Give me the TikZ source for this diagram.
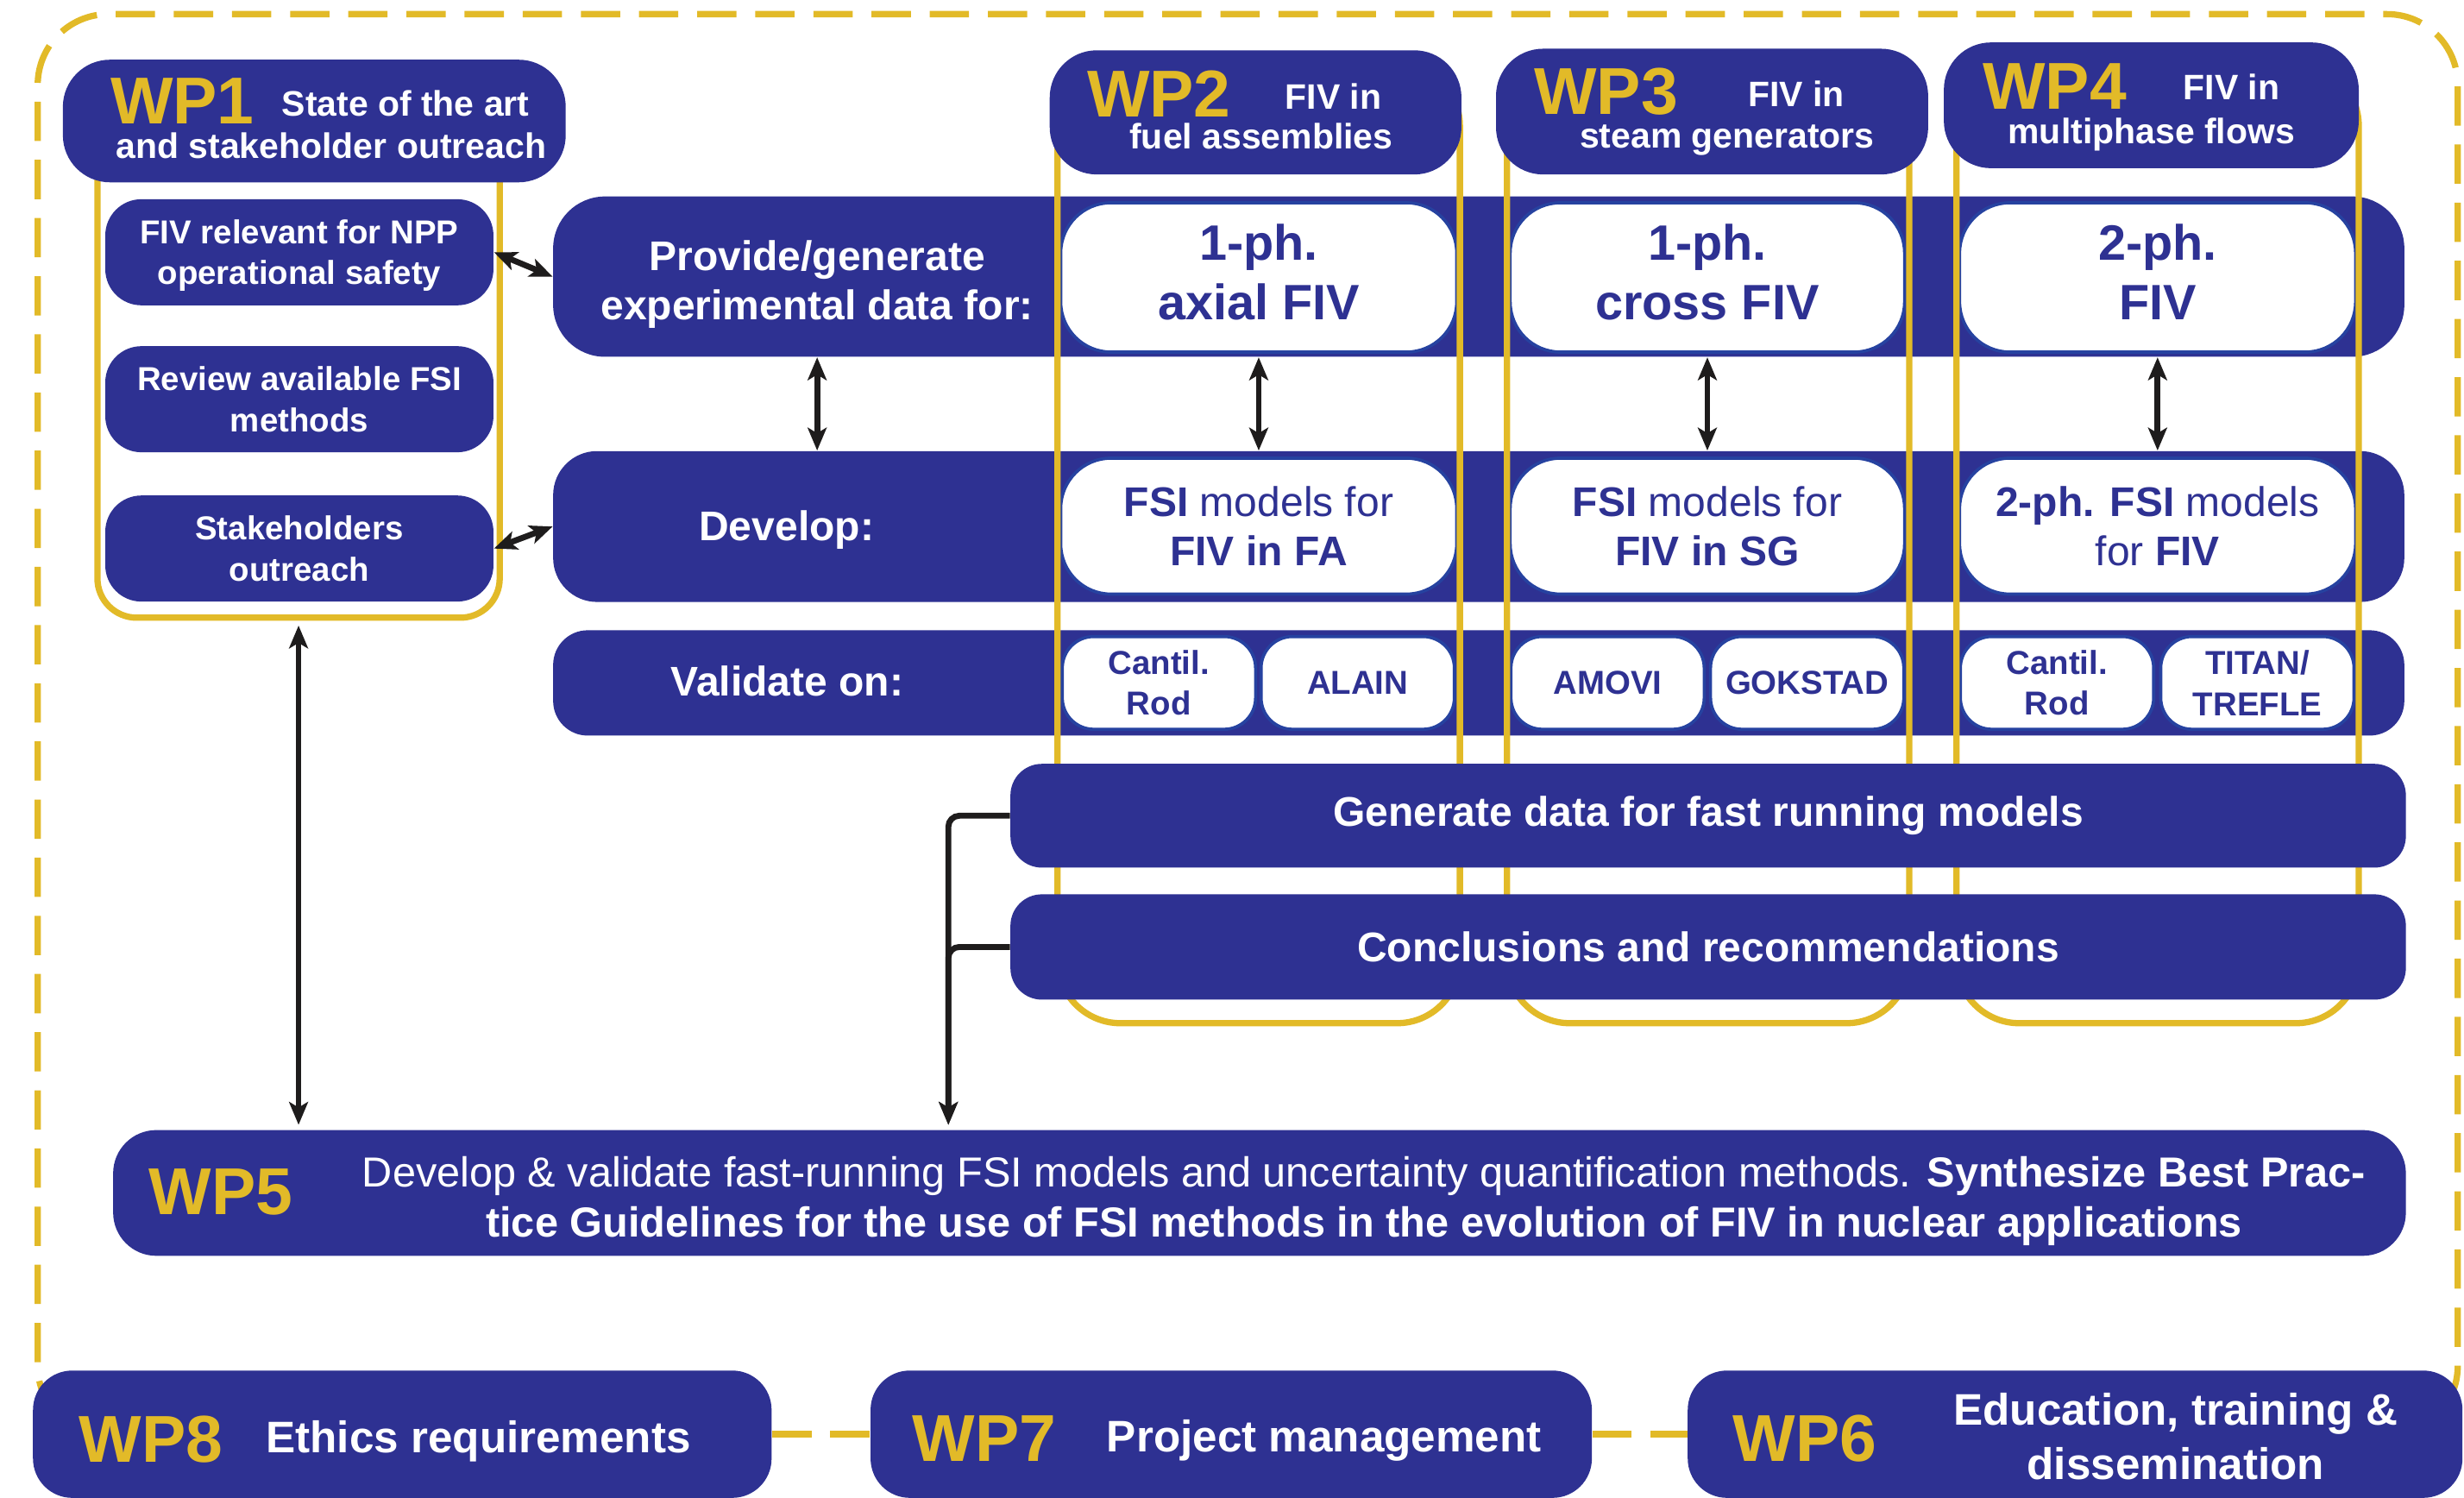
\documentclass[tikz,border=0pt]{standalone}
\usepackage{fontspec}
\setmainfont{Liberation Sans}
\usetikzlibrary{arrows.meta}

\definecolor{fpnavy}{RGB}{46,49,146}
\definecolor{fpyellow}{RGB}{226,186,40}
\definecolor{fprim}{RGB}{38,66,160}
\definecolor{fparrow}{RGB}{30,28,28}

\begin{document}
\begin{tikzpicture}[x=1mm,y=1mm,yscale=-1,xscale=1,
  navy/.style={rectangle,fill=fpnavy,inner sep=0pt,text=white,align=center,rounded corners=#1},
  navy/.default=5mm,
  pale/.style={rectangle,fill=white,draw=fprim,line width=0.4mm,inner sep=0pt,text=fpnavy,align=center,rounded corners=#1},
  pale/.default=4mm,
  wpcol/.style={rectangle,draw=fpyellow,line width=0.8mm,inner sep=0pt,rounded corners=#1},
  wpcol/.default=8mm,
  wpdash/.style={draw=fpyellow,line width=0.8mm,dash pattern=on 5mm off 2.4mm},
  wplbl/.style={anchor=base west,inner sep=0pt,text depth=0pt,text=fpyellow,font=\fontsize{24}{24}\selectfont\bfseries},
  wptxt/.style={anchor=base west,inner sep=0pt,text=white,font=\fontsize{12.8}{14}\selectfont\bfseries},
  bandtxt/.style={inner sep=0pt,text=white,align=center,font=\fontsize{15}{17.9}\selectfont\bfseries},
  bottxt/.style={anchor=base west,inner sep=0pt,text=white,font=\fontsize{16}{19.6}\selectfont\bfseries},
  link/.style={draw=fparrow,line width=0.75mm,>={Stealth[length=2.9mm,width=2.4mm,inset=0.7mm]},<->},
  feed/.style={draw=fparrow,line width=0.75mm,>={Stealth[length=2.9mm,width=2.4mm,inset=0.7mm]},->,rounded corners=1.4mm}
]
\useasboundingbox (0,0) rectangle (313.6,190.6);

%Dashed frame
\draw[wpdash,rounded corners=9mm] (14,182.8) -- (4.8,182.8) -- (4.8,1.8) -- (312.8,1.8) -- (312.8,182.8) -- (303,182.8);

%Bands
\node[navy=6.6mm,minimum width=235.6mm,minimum height=20.4mm] (prov) at (188.2,35.2) {};
\node[navy=5.6mm,minimum width=235.6mm,minimum height=19.2mm] (dev) at (188.2,67) {};
\node[navy=4.4mm,minimum width=235.6mm,minimum height=13.4mm] (vali) at (188.2,86.9) {};

% Text Node
\node[bandtxt] (provtxt) at (104,36.2) {Provide/generate\\experimental data for:};
\node[bandtxt,anchor=base] (devtxt) at (100.1,68.8) {Develop:};
\node[bandtxt,anchor=base] (valitxt) at (100.2,88.6) {Validate on:};

%White boxes
\node[pale=6.4mm,minimum width=50.4mm,minimum height=19mm,text depth=1.4mm,font=\fontsize{18}{21.3}\selectfont\bfseries] (axial) at (160.2,35.3) {1-ph.\\axial FIV};
\node[pale=6.4mm,minimum width=50.2mm,minimum height=19mm,text depth=1.4mm,font=\fontsize{18}{21.3}\selectfont\bfseries] (cross) at (217.3,35.3) {1-ph.\\cross FIV};
\node[pale=6.4mm,minimum width=50.4mm,minimum height=19mm,text depth=1.4mm,font=\fontsize{18}{21.3}\selectfont\bfseries] (twoph) at (274.6,35.3) {2-ph.\\FIV};

\node[pale=6.4mm,minimum width=50.4mm,minimum height=17.3mm,font=\fontsize{15}{18}\selectfont] (fsifa) at (160.2,66.95) {\textbf{FSI} models for\\\textbf{FIV in FA}};
\node[pale=6.4mm,minimum width=50.2mm,minimum height=17.3mm,font=\fontsize{15}{18}\selectfont] (fsisg) at (217.3,66.95) {\textbf{FSI} models for\\\textbf{FIV in SG}};
\node[pale=6.4mm,minimum width=50.4mm,minimum height=17.3mm,font=\fontsize{15}{18}\selectfont] (fsitp) at (274.6,66.95) {\textbf{2-ph. FSI} models\\for \textbf{FIV}};

\node[pale,minimum width=24.6mm,minimum height=11.8mm,font=\fontsize{12}{14.8}\selectfont\bfseries] (roda) at (147.5,86.9) {Cantil.\\Rod};
\node[pale,minimum width=24.6mm,minimum height=11.8mm,font=\fontsize{12}{14.8}\selectfont\bfseries] (alain) at (172.8,86.9) {ALAIN};
\node[pale,minimum width=24.6mm,minimum height=11.8mm,font=\fontsize{12}{14.8}\selectfont\bfseries] (amovi) at (204.6,86.9) {AMOVI};
\node[pale,minimum width=24.6mm,minimum height=11.8mm,font=\fontsize{12}{14.8}\selectfont\bfseries] (gokstad) at (230,86.9) {GOKSTAD};
\node[pale,minimum width=24.6mm,minimum height=11.8mm,font=\fontsize{12}{14.8}\selectfont\bfseries] (rodb) at (261.8,86.9) {Cantil.\\Rod};
\node[pale,minimum width=24.6mm,minimum height=11.8mm,font=\fontsize{12}{14.8}\selectfont\bfseries] (titan) at (287.3,86.9) {TITAN/\\TREFLE};

%Yellow frames
\node[wpcol=5mm,minimum width=51.2mm,minimum height=66.6mm] (wp1col) at (38,45.3) {};
\node[wpcol,minimum width=51.2mm,minimum height=122.2mm] (wp2col) at (160.2,69.1) {};
\node[wpcol,minimum width=51.2mm,minimum height=122.2mm] (wp3col) at (217.4,69.1) {};
\node[wpcol,minimum width=51.2mm,minimum height=122.2mm] (wp4col) at (274.6,69.1) {};

%Headers
\node[navy=6mm,minimum width=64mm,minimum height=15.6mm] (wp1head) at (40,15.4) {};
\node[navy=6mm,minimum width=52.4mm,minimum height=15.8mm] (wp2head) at (159.8,14.3) {};
\node[navy=6mm,minimum width=55mm,minimum height=16mm] (wp3head) at (217.9,14.2) {};
\node[navy=6mm,minimum width=52.8mm,minimum height=16mm] (wp4head) at (273.8,13.4) {};

% Text Node
\node[wplbl] (wp1lbl) at (14,15.8) {WP1};
\node[wptxt] (wp1t) at (35.8,14.8) {State of the art};
\node[wptxt] (wp1s) at (14.7,20.1) {and stakeholder outreach};
\node[wplbl] (wp2lbl) at (138.3,14.9) {WP2};
\node[wptxt] (wp2t) at (163.5,13.9) {FIV in};
\node[wptxt] (wp2s) at (143.7,18.9) {fuel assemblies};
\node[wplbl] (wp3lbl) at (195.2,14.6) {WP3};
\node[wptxt] (wp3t) at (222.4,13.6) {FIV in};
\node[wptxt] (wp3s) at (201,18.8) {steam generators};
\node[wplbl] (wp4lbl) at (252.3,13.9) {WP4};
\node[wptxt] (wp4t) at (277.8,12.7) {FIV in};
\node[wptxt] (wp4s) at (255.5,18.3) {multiphase flows};

%WP1 tasks
\node[navy=4.6mm,minimum width=49.4mm,minimum height=13.5mm,text depth=0pt,font=\fontsize{12}{14.8}\selectfont\bfseries] (npp) at (38.1,32.1) {FIV relevant for NPP\\operational safety};
\node[navy=4.6mm,minimum width=49.4mm,minimum height=13.5mm,font=\fontsize{12}{14.8}\selectfont\bfseries] (review) at (38.1,50.8) {Review available FSI\\methods};
\node[navy=4.6mm,minimum width=49.4mm,minimum height=13.5mm,font=\fontsize{12}{14.8}\selectfont\bfseries] (stake) at (38.1,69.8) {Stakeholders\\outreach};

%Output boxes
\node[navy=4mm,minimum width=177.6mm,minimum height=13.2mm,font=\fontsize{15}{18}\selectfont\bfseries] (gen) at (217.4,103.8) {Generate data for fast running models};
\node[navy=4mm,minimum width=177.6mm,minimum height=13.4mm,font=\fontsize{15}{18}\selectfont\bfseries] (conc) at (217.4,120.5) {Conclusions and recommendations};

%WP5
\node[navy=5.5mm,minimum width=291.8mm,minimum height=16mm] (wp5) at (160.3,151.8) {};
\node[wplbl] (wp5lbl) at (18.9,154.6) {WP5};
\node[inner sep=0pt,text=white,align=center,font=\fontsize{15.2}{18.1}\selectfont] (wp5txt) at (173.6,152.85) {Develop \& validate fast-running FSI models and uncertainty quantification methods. \textbf{Synthesize Best Prac-}\\\textbf{tice Guidelines for the use of FSI methods in the evolution of FIV in nuclear applications}};

%Bottom row
\node[navy,minimum width=94mm,minimum height=16.2mm] (wp8) at (51.2,182.5) {};
\node[navy,minimum width=91.8mm,minimum height=16.2mm] (wp7) at (156.7,182.5) {};
\node[navy,minimum width=98.6mm,minimum height=16.2mm] (wp6) at (264.1,182.5) {};
\node[wplbl] (wp8lbl) at (10,186.1) {WP8};
\node[bottxt] (wp8txt) at (33.8,184.8) {Ethics requirements};
\node[wplbl] (wp7lbl) at (116.1,185.9) {WP7};
\node[bottxt] (wp7txt) at (140.8,184.7) {Project management};
\node[wplbl] (wp6lbl) at (220.5,185.9) {WP6};
\node[bottxt,anchor=center,align=center] (wp6txt) at (276.9,182.8) {Education, training \&\\dissemination};

%Straight Lines
\draw[wpdash] (wp8) -- (wp7);
\draw[wpdash] (wp7) -- (wp6);

%Arrows
\draw[link] (npp.east) -- (prov.west);
\draw[link] (stake.east) -- (dev.west);
\draw[link] (provtxt |- prov.south) -- (provtxt |- dev.north);
\draw[link] (axial |- prov.south) -- (axial |- dev.north);
\draw[link] (cross |- prov.south) -- (cross |- dev.north);
\draw[link] (twoph |- prov.south) -- (twoph |- dev.north);
\draw[link,shorten <=0.6mm,shorten >=0.6mm] (wp1col.south) -- (wp1col.south |- wp5.north);

\coordinate (fork) at (120.7,0);
\draw[feed,shorten >=0.6mm] (gen.west) -| (fork |- wp5.north);
\draw[feed,shorten >=0.6mm] (conc.west) -| (fork |- wp5.north);

\end{tikzpicture}
\end{document}
